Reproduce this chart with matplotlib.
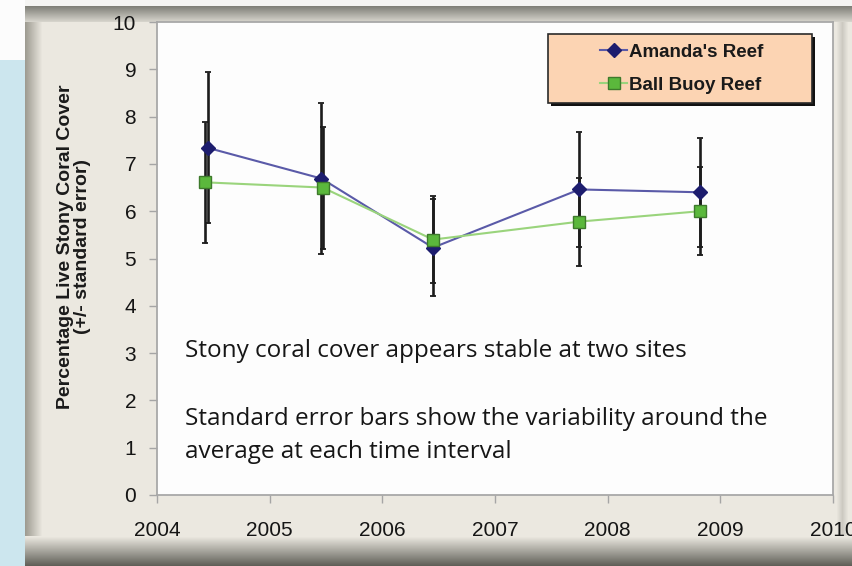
import numpy as np
import matplotlib
matplotlib.use("Agg")
import matplotlib.pyplot as plt
from matplotlib.patches import Rectangle
from matplotlib.lines import Line2D

# ---------------- data ----------------
series_names = ["Amanda's Reef", "Ball Buoy Reef"]
years_amanda = [2004.45, 2005.46, 2006.45, 2007.75, 2008.82]
cover_amanda = [7.34, 6.69, 5.23, 6.46, 6.40]
se_amanda = [1.60, 1.59, 1.02, 1.21, 1.15]
years_ball = [2004.43, 2005.47, 2006.45, 2007.75, 2008.82]
cover_ball = [6.61, 6.50, 5.40, 5.78, 6.00]
se_ball = [1.28, 1.29, 0.92, 0.93, 0.93]
x_ticks = [2004, 2005, 2006, 2007, 2008, 2009, 2010]
y_ticks = [0, 1, 2, 3, 4, 5, 6, 7, 8, 9, 10]
y_label = "Percentage Live Stony Coral Cover\n(+/- standard error)"
note_1 = "Stony coral cover appears stable at two sites"
note_2 = "Standard error bars show the variability around the\naverage at each time interval"

W, H = 853, 566
def fx(p):
    return p / W
def fy(p):
    return 1 - p / H

fig = plt.figure(figsize=(W / 100, H / 100), dpi=100)

# ---------------- background frame (decoration) ----------------
beige = np.array([0.925, 0.913, 0.882])
img = np.ones((H, W, 3)) * beige
img[:, :25] = [0.99, 0.99, 0.99]
img[60:, :25] = [0.80, 0.905, 0.935]
img[:6, 25:] = [0.96, 0.96, 0.95]
for r in range(6, 22):
    t = (r - 6) / 16.0
    img[r, 25:] = np.array([0.50, 0.50, 0.47]) * (1 - t) + np.array([0.86, 0.85, 0.82]) * t
for c in range(25, 42):
    t = (c - 25) / 17.0
    col = np.array([0.62, 0.61, 0.57]) * (1 - t) + beige * t
    img[22:, c] = col
for r in range(536, H):
    t = (r - 536) / (H - 536)
    img[r, 25:] = beige * (1 - t) + np.array([0.36, 0.36, 0.33]) * t
for c in range(836, 848):
    t = abs(c - 842) / 6.0
    img[22:536, c] = np.array([0.80, 0.79, 0.76]) * (1 - t) + beige * t

bg = fig.add_axes([0, 0, 1, 1])
bg.imshow(img, extent=[0, 1, 0, 1], aspect="auto", interpolation="bilinear")
bg.set_axis_off()
bg.set_zorder(-1)

# ---------------- main axes ----------------
ax = fig.add_axes([fx(157), fy(495), (833 - 157) / W, (495 - 22) / H])
ax.set_facecolor("#fdfdfd")
ax.set_xlim(x_ticks[0], x_ticks[-1])
ax.set_ylim(y_ticks[0], y_ticks[-1])

ebar_kw = dict(fmt="none", ecolor="#1c1c1c", elinewidth=1.9, capsize=2.5, capthick=1.3)
ax.errorbar(years_amanda, cover_amanda, yerr=se_amanda, zorder=2, **ebar_kw)
ax.errorbar(years_ball, cover_ball, yerr=se_ball, zorder=2, **ebar_kw)

amanda_style = dict(color="#5a5aa8", lw=1.5, marker="D", ms=7.5, mfc="#1d1d6e", mec="#1d1d6e")
ball_style = dict(color="#9ad47c", lw=1.5, marker="s", ms=9, mfc="#5bb83c", mec="#3e7a2c", mew=1.0)
ax.plot(years_amanda, cover_amanda, zorder=3, **amanda_style)
ax.plot(years_ball, cover_ball, zorder=4, **ball_style)

ax.set_xticks(x_ticks)
ax.set_yticks(y_ticks)
ax.tick_params(axis="both", direction="out", length=6, width=1, color="#a5a5a5",
               labelsize=15, labelcolor="#151515")
ax.tick_params(axis="y", pad=9)
ax.tick_params(axis="x", pad=13)
for lab in ax.get_xticklabels() + ax.get_yticklabels():
    lab.set_family("Liberation Sans")
for s in ax.spines.values():
    s.set_color("#a8a8a8")
    s.set_linewidth(1.3)

# notes (one text per line)
note_font = dict(family="Open Sans", fontsize=17.5, color="#161616", fontweight="normal")
note_lines = [note_1] + note_2.split("\n")
note_y_px = [351, 419, 452]
for line, ypx in zip(note_lines, note_y_px):
    ax.text(0.041, (495 - ypx) / (495 - 22), line, transform=ax.transAxes,
            ha="left", va="center", **note_font)

# legend box (decoration) + legend
shadow = Rectangle((fx(551), fy(106)), (812 - 548) / W, (103 - 34) / H,
                   transform=fig.transFigure, fc="#111111", ec="none", clip_on=False, zorder=5)
box = Rectangle((fx(548), fy(103)), (812 - 548) / W, (103 - 34) / H,
                transform=fig.transFigure, fc="#fcd4b3", ec="#2a2a2a", lw=1.2,
                clip_on=False, zorder=6)
ax.add_patch(shadow)
ax.add_patch(box)
handles = [Line2D([], [], **amanda_style), Line2D([], [], **ball_style)]
handles[0].set_markersize(7)
handles[1].set_markersize(8)
leg = ax.legend(handles, series_names, loc="center",
                bbox_to_anchor=(fx(682), fy(68.5)), bbox_transform=fig.transFigure,
                frameon=False, prop=dict(family="Liberation Sans", weight="bold", size=13.5),
                handlelength=1.45, handletextpad=0.1, labelspacing=0.85, borderpad=0)
for t in leg.get_texts():
    t.set_color("#1a1a1a")
leg.set_zorder(7)

fig.text(fx(74), fy(247), y_label, rotation=90, ha="center", va="center",
         multialignment="center", fontsize=14, fontweight="bold",
         family="Liberation Sans", linespacing=1.0, color="#1a1a1a")

fig.savefig("out.png", dpi=100)
